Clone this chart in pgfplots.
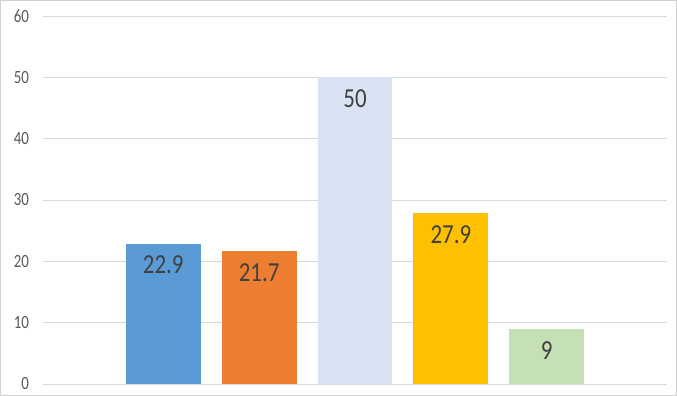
\documentclass[border=0pt]{standalone}
\usepackage{pgfplots}
\pgfplotsset{compat=1.18}
\usepackage{graphicx}
\usepackage{fontspec}
\setmainfont{Carlito}
\definecolor{c1}{HTML}{5B9BD5}
\definecolor{c2}{HTML}{ED7D31}
\definecolor{c3}{HTML}{DAE3F3}
\definecolor{c4}{HTML}{FFC000}
\definecolor{c5}{HTML}{C5E0B4}
\definecolor{gridgray}{HTML}{D9D9D9}
\definecolor{tickgray}{HTML}{595959}
\definecolor{labelgray}{HTML}{404040}
\definecolor{framegray}{HTML}{D0D0D0}
\begin{document}
\begin{tikzpicture}
\begin{axis}[
  scale only axis, width=624bp, height=368bp,
  xmin=-1.255, xmax=5.255, ymin=0, ymax=60,
  ytick={0,10,...,60}, xtick=\empty,
  axis line style={draw=none},
  ymajorgrids, grid style={color=gridgray, line width=0.8bp},
  major tick length=0pt,
  yticklabel={\scalebox{1}[1.25]{\pgfmathprintnumber{\tick}}},
  yticklabel style={font=\fontsize{15}{15}\selectfont, text=tickgray, xshift=-10.5bp},
  /pgf/number format/assume math mode=true,
  ybar, bar width=0.78, bar shift=0pt,
  nodes near coords={\scalebox{1}[1.2]{\pgfmathprintnumber{\pgfplotspointmeta}}},
  every node near coord/.append style={font=\fontsize{23}{23}\selectfont, text=labelgray, anchor=center, yshift=-21.5bp},
  clip=false,
]
\addplot[fill=c1, draw=none] coordinates {(0,22.9)};
\addplot[fill=c2, draw=none] coordinates {(1,21.7)};
\addplot[fill=c3, draw=none] coordinates {(2,50)};
\addplot[fill=c4, draw=none] coordinates {(3,27.9)};
\addplot[fill=c5, draw=none] coordinates {(4,9)};
\draw[framegray, line width=1bp] ([shift={(-42.5bp,-11.5bp)}]rel axis cs:0,0) rectangle ([shift={(9.5bp,15.5bp)}]rel axis cs:1,1);
\end{axis}
\end{tikzpicture}
\end{document}
